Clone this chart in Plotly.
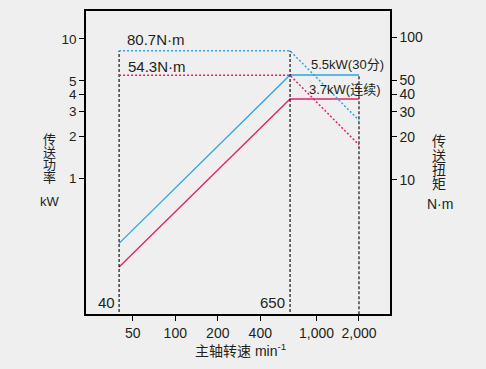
import plotly.graph_objects as go

# ---- data ----
speed = [40, 650, 2000]                 # min^-1 (knee points)
power_30min = [0.34, 5.5, 5.5]          # kW, 5.5kW (30分)
power_cont = [0.23, 3.7, 3.7]           # kW, 3.7kW (连续)
torque_30min = [80.7, 80.7, 26.2]       # N·m
torque_cont = [54.3, 54.3, 17.6]        # N·m

x_ticks = [50, 100, 200, 400, 1000, 2000]
x_ticktext = ["50", "100", "200", "400", "1,000", "2,000"]
y_ticks = [1, 2, 3, 4, 5, 10]
y2_ticks = [10, 20, 30, 40, 50, 100]

BLUE = "#2ba6e3"
PINK = "#e5206f"
BG = "#eeefee"
TXT = "#231f20"
FONT = "Liberation Sans, Arial, Noto Sans CJK SC, sans-serif"

W, H = 486, 369
L, R, T, B = 86, 96, 9, 55
PW, PH = W - L - R, H - T - B


def px(x):
    return (x - L) / PW


def py(y):
    return (H - B - y) / PH


fig = go.Figure()

DASH = dict(color="black", width=1.1, dash="3px,2px")
# dashed black verticals
fig.add_trace(go.Scatter(x=[speed[0], speed[0]], y=[1, torque_30min[0]], yaxis="y2",
                         mode="lines", line=DASH, hoverinfo="skip", showlegend=False))
fig.add_trace(go.Scatter(x=[speed[1], speed[1]], y=[1, torque_30min[1]], yaxis="y2",
                         mode="lines", line=DASH, hoverinfo="skip", showlegend=False))
fig.add_trace(go.Scatter(x=[speed[2], speed[2]], y=[0.05, power_30min[2]], yaxis="y",
                         mode="lines", line=DASH, hoverinfo="skip", showlegend=False))

# torque (dotted)
fig.add_trace(go.Scatter(x=speed, y=torque_30min, yaxis="y2", mode="lines",
                         line=dict(color=BLUE, width=1.5, dash="2px,2px"), showlegend=False))
fig.add_trace(go.Scatter(x=speed, y=torque_cont, yaxis="y2", mode="lines",
                         line=dict(color=PINK, width=1.5, dash="2px,2px"), showlegend=False))

# power (solid)
fig.add_trace(go.Scatter(x=speed, y=power_30min, yaxis="y", mode="lines",
                         line=dict(color=BLUE, width=1.3), showlegend=False))
fig.add_trace(go.Scatter(x=speed, y=power_cont, yaxis="y", mode="lines",
                         line=dict(color=PINK, width=1.3), showlegend=False))

ann = []


def add(text, x, y, size, xanchor="center"):
    ann.append(dict(text=text, x=px(x), y=py(y), xref="paper", yref="paper",
                    xanchor=xanchor, yanchor="middle", showarrow=False,
                    font=dict(size=size, color=TXT, family=FONT)))


add("80.7N·m", 124.5, 38, 15, "left")
add("54.3N·m", 125.5, 65, 15, "left")
add("5.5kW(30分)", 308.5, 63, 13, "left")
add("3.7kW(连续)", 306.5, 88, 13, "left")
add("40", 116.5, 302, 15, "right")
add("650", 286.5, 302, 15, "right")

for ch, yy in zip("传送功率", [138, 151, 164, 176.5]):
    add(ch, 49, yy, 13)
add("kW", 49.5, 200.5, 13)
for ch, yy in zip("传送扭矩", [140, 154.5, 169, 183.5]):
    add(ch, 438.7, yy, 14)
add("N·m", 439.7, 203.5, 14)
add("主轴转速 min<sup>-1</sup>", 241, 350, 14)

axis_common = dict(showgrid=False, zeroline=False, showline=True, linecolor="black",
                   linewidth=1.5, ticks="outside", ticklen=5, tickwidth=1,
                   tickcolor="black", type="log")

fig.update_layout(
    width=W, height=H,
    margin=dict(l=L, r=R, t=T, b=B, pad=0),
    paper_bgcolor=BG, plot_bgcolor=BG,
    font=dict(family=FONT, color=TXT),
    showlegend=False,
    xaxis=dict(**axis_common, range=[1.3677, 3.5207], tickvals=x_ticks,
               ticktext=x_ticktext, mirror=True, tickfont=dict(size=14)),
    yaxis=dict(**axis_common, range=[-0.976, 1.20], tickvals=y_ticks,
               ticktext=[str(v) for v in y_ticks], tickfont=dict(size=13.5)),
    yaxis2=dict(**axis_common, range=[0.056, 2.187], tickvals=y2_ticks,
                ticktext=[str(v) for v in y2_ticks], overlaying="y", side="right",
                tickfont=dict(size=14)),
    annotations=ann,
)

fig.write_html("out.html", config={"displayModeBar": False},
               post_script="document.body.style.margin='0';"
                           "document.body.style.background='" + BG + "';")
